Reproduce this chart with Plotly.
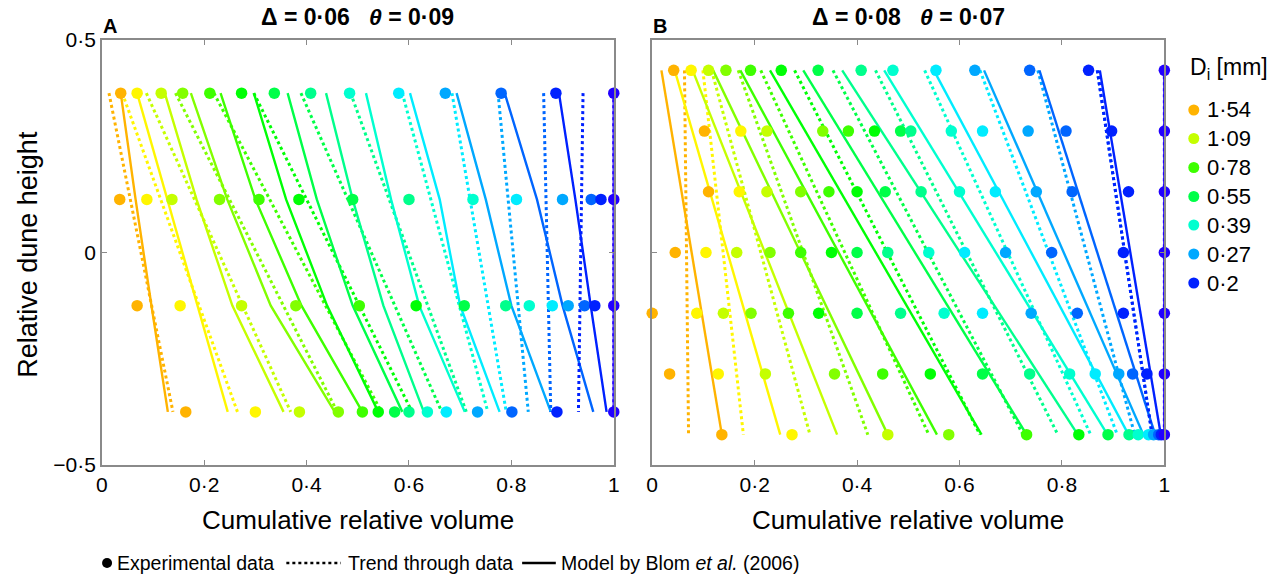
import plotly.graph_objects as go

# ---- size classes: colour per class (coarse -> fine) ----
class_colors = ["#FFB300", "#FFF600", "#C5FF00", "#82FF00", "#3EFF00", "#00FF05", "#00FF48",
                "#00FF8C", "#00FFCF", "#00ECFF", "#00A8FF", "#0065FF", "#0021FF", "#2200FF"]
legend_labels = ["1·54", "1·09", "0·78", "0·55", "0·39", "0·27", "0·2"]
legend_class = [0, 2, 4, 6, 8, 10, 12]

# ---- panel A: four sampling heights ----
heights_A = [0.375, 0.125, -0.125, -0.375]
pts_A = [
    [0.037, 0.069, 0.116, 0.158, 0.211, 0.273, 0.337, 0.408, 0.484, 0.580, 0.671, 0.780, 0.887, 1.0],
    [0.035, 0.088, 0.137, 0.230, 0.307, 0.385, 0.490, 0.600, 0.725, 0.810, 0.900, 0.956, 0.975, 1.0],
    [0.069, 0.153, 0.273, 0.379, 0.503, 0.614, 0.708, 0.789, 0.835, 0.880, 0.911, 0.943, 0.963, 1.0],
    [0.164, 0.300, 0.386, 0.462, 0.509, 0.540, 0.572, 0.600, 0.636, 0.673, 0.734, 0.801, 0.889, 1.0],
]
trend_A_top = [0.014, 0.040, 0.087, 0.144, 0.219, 0.297, 0.389, 0.486, 0.587, 0.684, 0.774, 0.863, 0.940, 1.0]
trend_A_bot = [0.139, 0.265, 0.369, 0.460, 0.546, 0.606, 0.664, 0.712, 0.754, 0.790, 0.833, 0.877, 0.931, 1.0]
model_A = [
    [0.037, 0.069, 0.123, 0.174, 0.232, 0.297, 0.363, 0.438, 0.516, 0.602, 0.693, 0.787, 0.893, 1.0],
    [0.066, 0.128, 0.185, 0.245, 0.300, 0.360, 0.420, 0.490, 0.565, 0.660, 0.750, 0.850, 0.925, 1.0],
    [0.097, 0.187, 0.255, 0.330, 0.390, 0.440, 0.490, 0.550, 0.620, 0.700, 0.800, 0.900, 0.955, 1.0],
    [0.129, 0.246, 0.355, 0.455, 0.509, 0.540, 0.587, 0.629, 0.709, 0.777, 0.877, 0.960, 0.986, 1.0],
]

# ---- panel B: seven sampling heights ----
heights_B = [3 / 7, 2 / 7, 1 / 7, 0.0, -1 / 7, -2 / 7, -3 / 7]
pts_B = [
    [0.042, 0.076, 0.110, 0.144, 0.192, 0.252, 0.324, 0.408, 0.470, 0.554, 0.630, 0.737, 0.852, 1.0],
    [0.102, 0.173, 0.224, 0.333, 0.383, 0.434, 0.485, 0.505, 0.584, 0.645, 0.734, 0.808, 0.897, 1.0],
    [0.110, 0.170, 0.224, 0.290, 0.345, 0.400, 0.455, 0.525, 0.600, 0.670, 0.750, 0.820, 0.930, 1.0],
    [0.045, 0.105, 0.165, 0.230, 0.290, 0.350, 0.400, 0.460, 0.540, 0.610, 0.690, 0.780, 0.920, 1.0],
    [0.000, 0.087, 0.139, 0.193, 0.266, 0.325, 0.400, 0.485, 0.570, 0.645, 0.740, 0.830, 0.920, 1.0],
    [0.034, 0.129, 0.221, 0.356, 0.450, 0.543, 0.645, 0.737, 0.815, 0.865, 0.911, 0.938, 0.966, 1.0],
    [0.136, 0.273, 0.460, 0.579, 0.731, 0.833, 0.890, 0.931, 0.949, 0.969, 0.979, 0.989, 0.994, 1.0],
]
trend_B_top = [0.063, 0.099, 0.116, 0.168, 0.212, 0.278, 0.353, 0.436, 0.532, 0.640, 0.753, 0.869, 0.869, 1.0]
trend_B_bot = [0.071, 0.178, 0.308, 0.421, 0.540, 0.640, 0.724, 0.792, 0.856, 0.908, 0.942, 0.976, 0.976, 1.0]
model_B_top = [0.018, 0.044, 0.079, 0.119, 0.172, 0.230, 0.295, 0.371, 0.453, 0.550, 0.648, 0.756, 0.874, 1.0]
model_B_bot = [0.136, 0.250, 0.361, 0.460, 0.556, 0.643, 0.731, 0.831, 0.889, 0.930, 0.959, 0.982, 0.993, 1.0]

x_ticks = [0, 0.2, 0.4, 0.6, 0.8, 1]
x_ticktext = ["0", "0·2", "0·4", "0·6", "0·8", "1"]
y_ticks = [-0.5, 0, 0.5]
y_ticktext = ["−0·5", "0", "0·5"]

FONT = "Liberation Sans, Arial, sans-serif"
W, H = 1283, 579
M_T, M_B = 40, 114
PLOT_H = H - M_T - M_B


def px(x):
    return x / W


def py(y):
    return (H - M_B - y) / PLOT_H


fig = go.Figure()


def add_panel(xa, ya, heights, pts, trend_top, trend_bot, model_x, model_y):
    n = len(class_colors)
    for i in range(n):
        c = class_colors[i]
        fig.add_trace(go.Scatter(
            x=[row[i] for row in model_x], y=model_y,
            mode="lines", line=dict(color=c, width=2.4), xaxis=xa, yaxis=ya,
            showlegend=False, hoverinfo="skip", cliponaxis=False))
        fig.add_trace(go.Scatter(
            x=[trend_top[i], trend_bot[i]], y=[heights[0], heights[-1]],
            mode="lines", line=dict(color=c, width=3, dash="dot"), xaxis=xa, yaxis=ya,
            showlegend=False, hoverinfo="skip", cliponaxis=False))
    for i in range(n):
        fig.add_trace(go.Scatter(
            x=[row[i] for row in pts], y=heights, mode="markers",
            marker=dict(color=class_colors[i], size=11.5, line=dict(width=0)),
            xaxis=xa, yaxis=ya, showlegend=False, cliponaxis=False))


add_panel("x", "y", heights_A, pts_A, trend_A_top, trend_A_bot, model_A, heights_A)
add_panel("x2", "y2", heights_B, pts_B, trend_B_top, trend_B_bot,
          [model_B_top, model_B_bot], [heights_B[0], heights_B[-1]])

axis_common = dict(range=[0, 1], showgrid=False, zeroline=False, showline=True,
                   linecolor="#8a8a8a", linewidth=1.5, mirror="ticks", ticks="inside",
                   ticklen=5, tickcolor="#8a8a8a", tickfont=dict(family=FONT, size=21, color="black"))

fig.update_layout(
    width=W, height=H, margin=dict(l=0, r=0, t=M_T, b=M_B),
    paper_bgcolor="white", plot_bgcolor="white",
    xaxis=dict(axis_common, domain=[px(96.7), px(613.5)], tickvals=x_ticks, ticktext=x_ticktext),
    yaxis=dict(axis_common, range=[-0.5, 0.5], anchor="x", tickvals=y_ticks, ticktext=y_ticktext),
    xaxis2=dict(axis_common, domain=[px(652.3), px(1169.3)], tickvals=x_ticks, ticktext=x_ticktext, anchor="y2"),
    yaxis2=dict(axis_common, range=[-0.5, 0.5], anchor="x2", tickvals=y_ticks, showticklabels=False),
    showlegend=False,
)

GAP = "\u00a0\u00a0\u00a0"
ann = []
# panel titles and letters
ann.append(dict(x=px(355), y=py(17), text="<b>Δ = 0·06" + GAP + "<i>θ</i> = 0·09</b>", font=dict(size=23)))
ann.append(dict(x=px(910.8), y=py(17), text="<b>Δ = 0·08" + GAP + "<i>θ</i> = 0·07</b>", font=dict(size=23)))
ann.append(dict(x=px(96), y=py(26), text="<b>A</b>", font=dict(size=20), xanchor="left"))
ann.append(dict(x=px(651), y=py(26), text="<b>B</b>", font=dict(size=20), xanchor="left"))
# axis titles
ann.append(dict(x=px(355), y=py(520), text="Cumulative relative volume", font=dict(size=26)))
ann.append(dict(x=px(910.8), y=py(520), text="Cumulative relative volume", font=dict(size=26)))
ann.append(dict(x=px(22), y=py(254), text="Relative dune height", font=dict(size=27), textangle=-90))
# size-class key
ann.append(dict(x=px(1193), y=py(68), text="D<sub>i</sub> [mm]", font=dict(size=23), xanchor="left"))
key_rows = [110, 138.5, 167.5, 196.5, 225, 254, 283]
shapes = []
for lbl, ci, yy in zip(legend_labels, legend_class, key_rows):
    ann.append(dict(x=px(1210), y=py(yy), text=lbl, font=dict(size=22), xanchor="left"))
    shapes.append(dict(type="circle", xref="paper", yref="paper", xsizemode="pixel", ysizemode="pixel",
                       xanchor=px(1199), yanchor=py(yy), x0=-5.5, x1=5.5, y0=-5.5, y1=5.5,
                       fillcolor=class_colors[ci], line=dict(width=0)))
# bottom key
LY = 563
shapes.append(dict(type="circle", xref="paper", yref="paper", xsizemode="pixel", ysizemode="pixel",
                   xanchor=px(102), yanchor=py(LY), x0=-5, x1=5, y0=-5, y1=5,
                   fillcolor="black", line=dict(width=0)))
ann.append(dict(x=px(110), y=py(LY), text="Experimental data", font=dict(size=19.5), xanchor="left"))
shapes.append(dict(type="line", xref="paper", yref="paper", x0=px(283), x1=px(338), y0=py(LY), y1=py(LY),
                   line=dict(color="black", width=2.5, dash="dot")))
ann.append(dict(x=px(343), y=py(LY), text="Trend through data", font=dict(size=19.5), xanchor="left"))
shapes.append(dict(type="line", xref="paper", yref="paper", x0=px(521), x1=px(555), y0=py(LY), y1=py(LY),
                   line=dict(color="black", width=2.5)))
ann.append(dict(x=px(558), y=py(LY), text="Model by Blom <i>et al.</i> (2006)", font=dict(size=19.5), xanchor="left"))

for a in ann:
    a.setdefault("xanchor", "center")
    a.update(xref="paper", yref="paper", yanchor="middle", showarrow=False)
    a["font"] = dict(family=FONT, color="black", **a["font"])
fig.update_layout(annotations=ann, shapes=shapes)

fig.write_html("out.html")
